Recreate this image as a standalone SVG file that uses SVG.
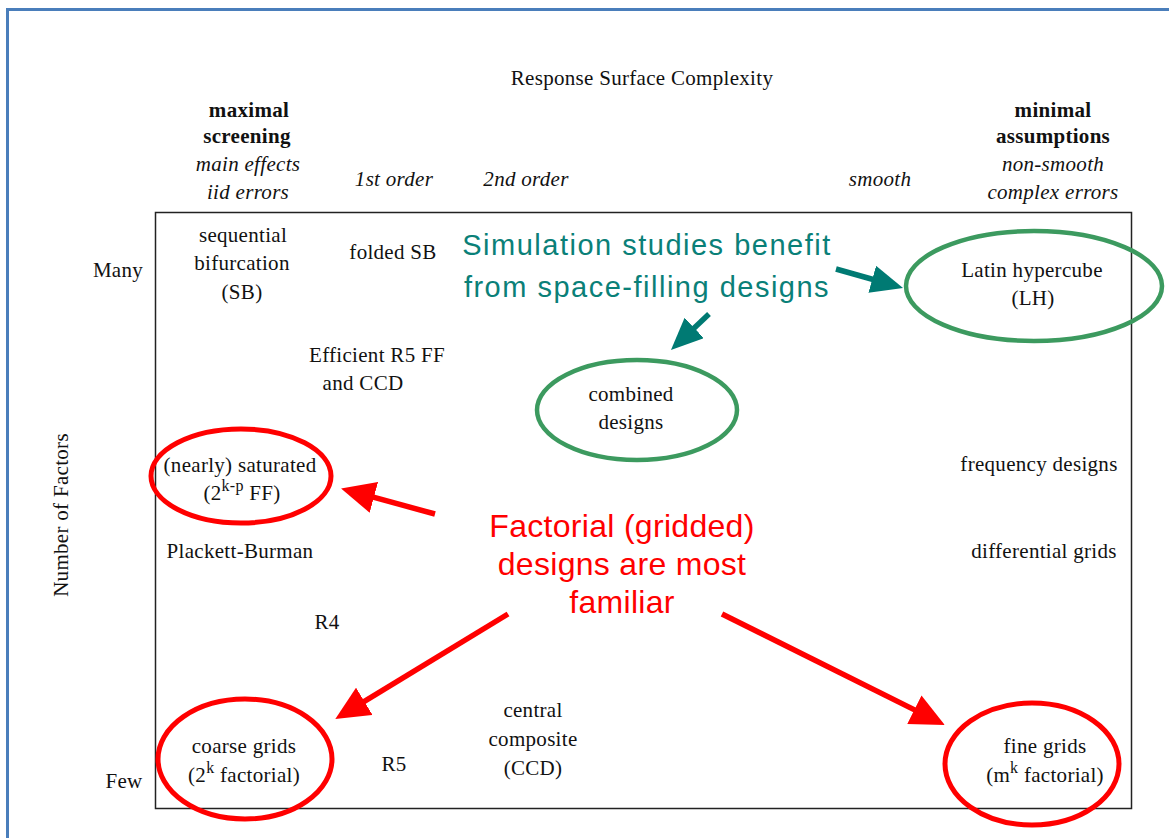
<svg xmlns="http://www.w3.org/2000/svg" width="1169" height="838" viewBox="0 0 1169 838">
<style>
.t{font-family:"Liberation Serif","Times New Roman",serif;font-size:21px;fill:#111;text-anchor:middle;letter-spacing:0.3px}
.b{font-weight:bold}
.i{font-style:italic}
.sup{font-size:16px}
.teal{font-family:"Liberation Sans",Arial,sans-serif;font-size:29px;fill:#0a8078;text-anchor:middle;letter-spacing:1.5px}
.red{font-family:"Liberation Sans",Arial,sans-serif;font-size:32px;fill:#ff0000;text-anchor:middle;letter-spacing:0.3px}
.ge{fill:none;stroke:#3c9a5f;stroke-width:4.5}
.re{fill:none;stroke:#ff0000;stroke-width:5}
.ra{fill:none;stroke:#ff0000;stroke-width:5.5}
.ta{fill:none;stroke:#007a73;stroke-width:5.5}
</style>
<defs>
<marker id="mr" markerUnits="userSpaceOnUse" markerWidth="36" markerHeight="32" refX="12" refY="16" orient="auto">
<path d="M0,0 L34,16 L0,32 z" fill="#ff0000"/>
</marker>
<marker id="mt" markerUnits="userSpaceOnUse" markerWidth="34" markerHeight="30" refX="12" refY="14" orient="auto">
<path d="M0,0 L32,14 L0,28 z" fill="#007a73"/>
</marker>
</defs>
<rect width="1169" height="838" fill="#ffffff"/>
<rect x="7.5" y="9.5" width="1200" height="900" fill="none" stroke="#4a7ebb" stroke-width="3"/>
<rect id="frame" x="155.5" y="212.5" width="976" height="596" fill="none" stroke="#222" stroke-width="1.5"/>

<g id="axis-labels">
<text class="t" x="642" y="85">Response Surface Complexity</text>
<text class="t" x="68" y="515" transform="rotate(-90 68 515)">Number of Factors</text>
<text class="t" x="118" y="277">Many</text>
<text class="t" x="124" y="788">Few</text>
</g>

<g id="col-maximal">
<text class="t b" x="249" y="117">maximal</text>
<text class="t b" x="247" y="143">screening</text>
<text class="t i" x="248" y="171">main effects</text>
<text class="t i" x="248" y="199">iid errors</text>
</g>
<g id="col-1st"><text class="t i" x="394" y="186">1st order</text></g>
<g id="col-2nd"><text class="t i" x="526" y="186">2nd order</text></g>
<g id="col-smooth"><text class="t i" x="880" y="186">smooth</text></g>
<g id="col-minimal">
<text class="t b" x="1053" y="117">minimal</text>
<text class="t b" x="1053" y="143">assumptions</text>
<text class="t i" x="1053" y="171">non-smooth</text>
<text class="t i" x="1053" y="199">complex errors</text>
</g>

<g id="sb">
<text class="t" x="243" y="242">sequential</text>
<text class="t" x="242" y="270">bifurcation</text>
<text class="t" x="242" y="299">(SB)</text>
</g>
<g id="folded-sb"><text class="t" x="393" y="259">folded SB</text></g>
<g id="lh">
<ellipse class="ge" cx="1034" cy="286" rx="128" ry="55"/>
<text class="t" x="1032" y="277">Latin hypercube</text>
<text class="t" x="1033" y="305">(LH)</text>
</g>
<g id="efficient">
<text class="t" x="377" y="362">Efficient R5 FF</text>
<text class="t" x="363" y="390">and CCD</text>
</g>
<g id="combined">
<ellipse class="ge" cx="637" cy="410" rx="100" ry="50"/>
<text class="t" x="631" y="401">combined</text>
<text class="t" x="631" y="429">designs</text>
</g>
<g id="saturated">
<ellipse class="re" cx="241" cy="476" rx="90" ry="47"/>
<text class="t" x="240" y="472">(nearly) saturated</text>
<text class="t" x="242" y="500">(2<tspan class="sup" dy="-9">k-p</tspan><tspan dy="9"> FF)</tspan></text>
</g>
<g id="frequency"><text class="t" x="1039" y="471">frequency designs</text></g>
<g id="plackett"><text class="t" x="240" y="558">Plackett-Burman</text></g>
<g id="differential"><text class="t" x="1044" y="558">differential grids</text></g>
<g id="r4"><text class="t" x="327" y="629">R4</text></g>
<g id="ccd">
<text class="t" x="533" y="717">central</text>
<text class="t" x="533" y="746">composite</text>
<text class="t" x="533" y="775">(CCD)</text>
</g>
<g id="coarse">
<ellipse class="re" cx="245" cy="759" rx="87" ry="60"/>
<text class="t" x="244" y="753">coarse grids</text>
<text class="t" x="244" y="782">(2<tspan class="sup" dy="-9">k</tspan><tspan dy="9"> factorial)</tspan></text>
</g>
<g id="r5"><text class="t" x="394" y="771">R5</text></g>
<g id="fine">
<ellipse class="re" cx="1032" cy="764" rx="87" ry="61"/>
<text class="t" x="1045" y="753">fine grids</text>
<text class="t" x="1045" y="782">(m<tspan class="sup" dy="-9">k</tspan><tspan dy="9"> factorial)</tspan></text>
</g>

<g id="note-simulation">
<text class="teal" x="647" y="255">Simulation studies benefit</text>
<text class="teal" x="647" y="297">from space-filling designs</text>
</g>
<g id="note-factorial">
<text class="red" x="622" y="537">Factorial (gridded)</text>
<text class="red" x="622" y="575">designs are most</text>
<text class="red" x="622" y="613">familiar</text>
</g>

<g id="connectors">
<line class="ta" x1="836" y1="269" x2="883.8" y2="282.5" marker-end="url(#mt)"/>
<line class="ta" x1="709" y1="314" x2="685.5" y2="336.2" marker-end="url(#mt)"/>
<line class="ra" x1="435" y1="514" x2="362.3" y2="494.2" marker-end="url(#mr)"/>
<line class="ra" x1="508" y1="614" x2="354.1" y2="707.6" marker-end="url(#mr)"/>
<line class="ra" x1="722" y1="614" x2="925.1" y2="715.1" marker-end="url(#mr)"/>
</g>
</svg>
